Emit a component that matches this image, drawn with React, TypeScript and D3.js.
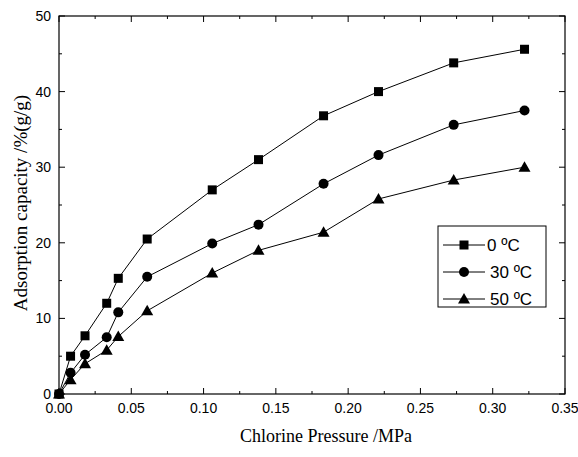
import React from "react";
import * as d3 from "d3";

const pressure = [0, 0.008, 0.018, 0.033, 0.041, 0.061, 0.106, 0.138, 0.183, 0.221, 0.273, 0.322];
const temp0 = [0, 5.0, 7.7, 12.0, 15.3, 20.5, 27.0, 31.0, 36.8, 40.0, 43.8, 45.6];
const temp30 = [0, 2.8, 5.2, 7.5, 10.8, 15.5, 19.9, 22.4, 27.8, 31.6, 35.6, 37.5];
const temp50 = [0, 1.9, 4.0, 5.8, 7.6, 11.0, 16.0, 19.0, 21.4, 25.8, 28.3, 30.0];
const seriesNames = ["0 ºC", "30 ºC", "50 ºC"];
const seriesShapes = ["square", "circle", "triangle"];
const xTicks = [0, 0.05, 0.1, 0.15, 0.2, 0.25, 0.3, 0.35];
const yTicks = [0, 10, 20, 30, 40, 50];

const W = 578, H = 457;
const L = 59, R = 565, T = 16, B = 394;

function Marker({ shape, x, y }: { shape: string; x: number; y: number }) {
  if (shape === "square") return <rect x={x - 4.5} y={y - 4.5} width={9} height={9} fill="#000" />;
  if (shape === "circle") return <circle cx={x} cy={y} r={5} fill="#000" />;
  const s = 6;
  return <path d={`M${x},${y - s}L${x + s},${y + s * 0.75}L${x - s},${y + s * 0.75}Z`} fill="#000" />;
}

export default function App() {
  const x = d3.scaleLinear().domain([0, 0.35]).range([L, R]);
  const y = d3.scaleLinear().domain([0, 50]).range([B, T]);
  const all = [temp0, temp30, temp50];
  const line = d3.line<number>().x((_, i) => x(pressure[i])).y((d) => y(d));
  const xMinor = d3.range(0, 0.3501, 0.025);
  const yMinor = d3.range(0, 50.01, 5);
  const sans = "'Liberation Sans', Arial, sans-serif";
  const serif = "'Liberation Serif', 'Times New Roman', serif";
  const legX = 438, legY = 226, legW = 108, legH = 81;
  return (
    <svg width={W} height={H} style={{ position: "absolute", left: 0, top: 0, background: "#fff" }}>
      <rect x={0} y={0} width={W} height={H} fill="#fff" />
      {xMinor.map((v, i) => {
        const major = i % 2 === 0;
        const len = major ? 6 : 3;
        return (
          <g key={"xt" + i}>
            <line x1={x(v)} x2={x(v)} y1={B} y2={B - len} stroke="#000" />
            <line x1={x(v)} x2={x(v)} y1={T} y2={T + len} stroke="#000" />
          </g>
        );
      })}
      {yMinor.map((v, i) => {
        const major = i % 2 === 0;
        const len = major ? 6 : 3;
        return (
          <g key={"yt" + i}>
            <line x1={L} x2={L + len} y1={y(v)} y2={y(v)} stroke="#000" />
            <line x1={R} x2={R - len} y1={y(v)} y2={y(v)} stroke="#000" />
          </g>
        );
      })}
      <rect x={L} y={T} width={R - L} height={B - T} fill="none" stroke="#000" strokeWidth={1.2} />
      {xTicks.map((v) => (
        <text key={"xl" + v} x={x(v)} y={B + 19} textAnchor="middle" fontFamily={sans} fontSize={14} fill="#000">
          {v.toFixed(2)}
        </text>
      ))}
      {yTicks.map((v) => (
        <text key={"yl" + v} x={L - 8} y={y(v) + 5} textAnchor="end" fontFamily={sans} fontSize={14} fill="#000">
          {v}
        </text>
      ))}
      <text x={(L + R) / 2 + 14} y={442} textAnchor="middle" fontFamily={serif} fontSize={18} fill="#000">
        Chlorine Pressure /MPa
      </text>
      <text
        transform={`translate(27,203) rotate(-90)`}
        textAnchor="middle"
        fontFamily={serif}
        fontSize={19}
        fill="#000"
      >
        Adsorption capacity /%(g/g)
      </text>
      {all.map((s, si) => (
        <g key={"s" + si}>
          <path d={line(s) || ""} fill="none" stroke="#000" strokeWidth={1} />
          {s.map((v, i) => (
            <Marker key={i} shape={seriesShapes[si]} x={x(pressure[i])} y={y(v)} />
          ))}
        </g>
      ))}
      <rect x={legX} y={legY} width={legW} height={legH} fill="#fff" stroke="#000" strokeWidth={1} />
      {seriesNames.map((n, i) => {
        const ly = legY + 19 + i * 27;
        return (
          <g key={"lg" + i}>
            <line x1={legX + 5} x2={legX + 47} y1={ly} y2={ly} stroke="#000" />
            <Marker shape={seriesShapes[i]} x={legX + 26} y={ly} />
            <text x={legX + (i === 0 ? 49 : 52)} y={ly + 6} fontFamily={sans} fontSize={17} fill="#000">
              {n}
            </text>
          </g>
        );
      })}
    </svg>
  );
}
